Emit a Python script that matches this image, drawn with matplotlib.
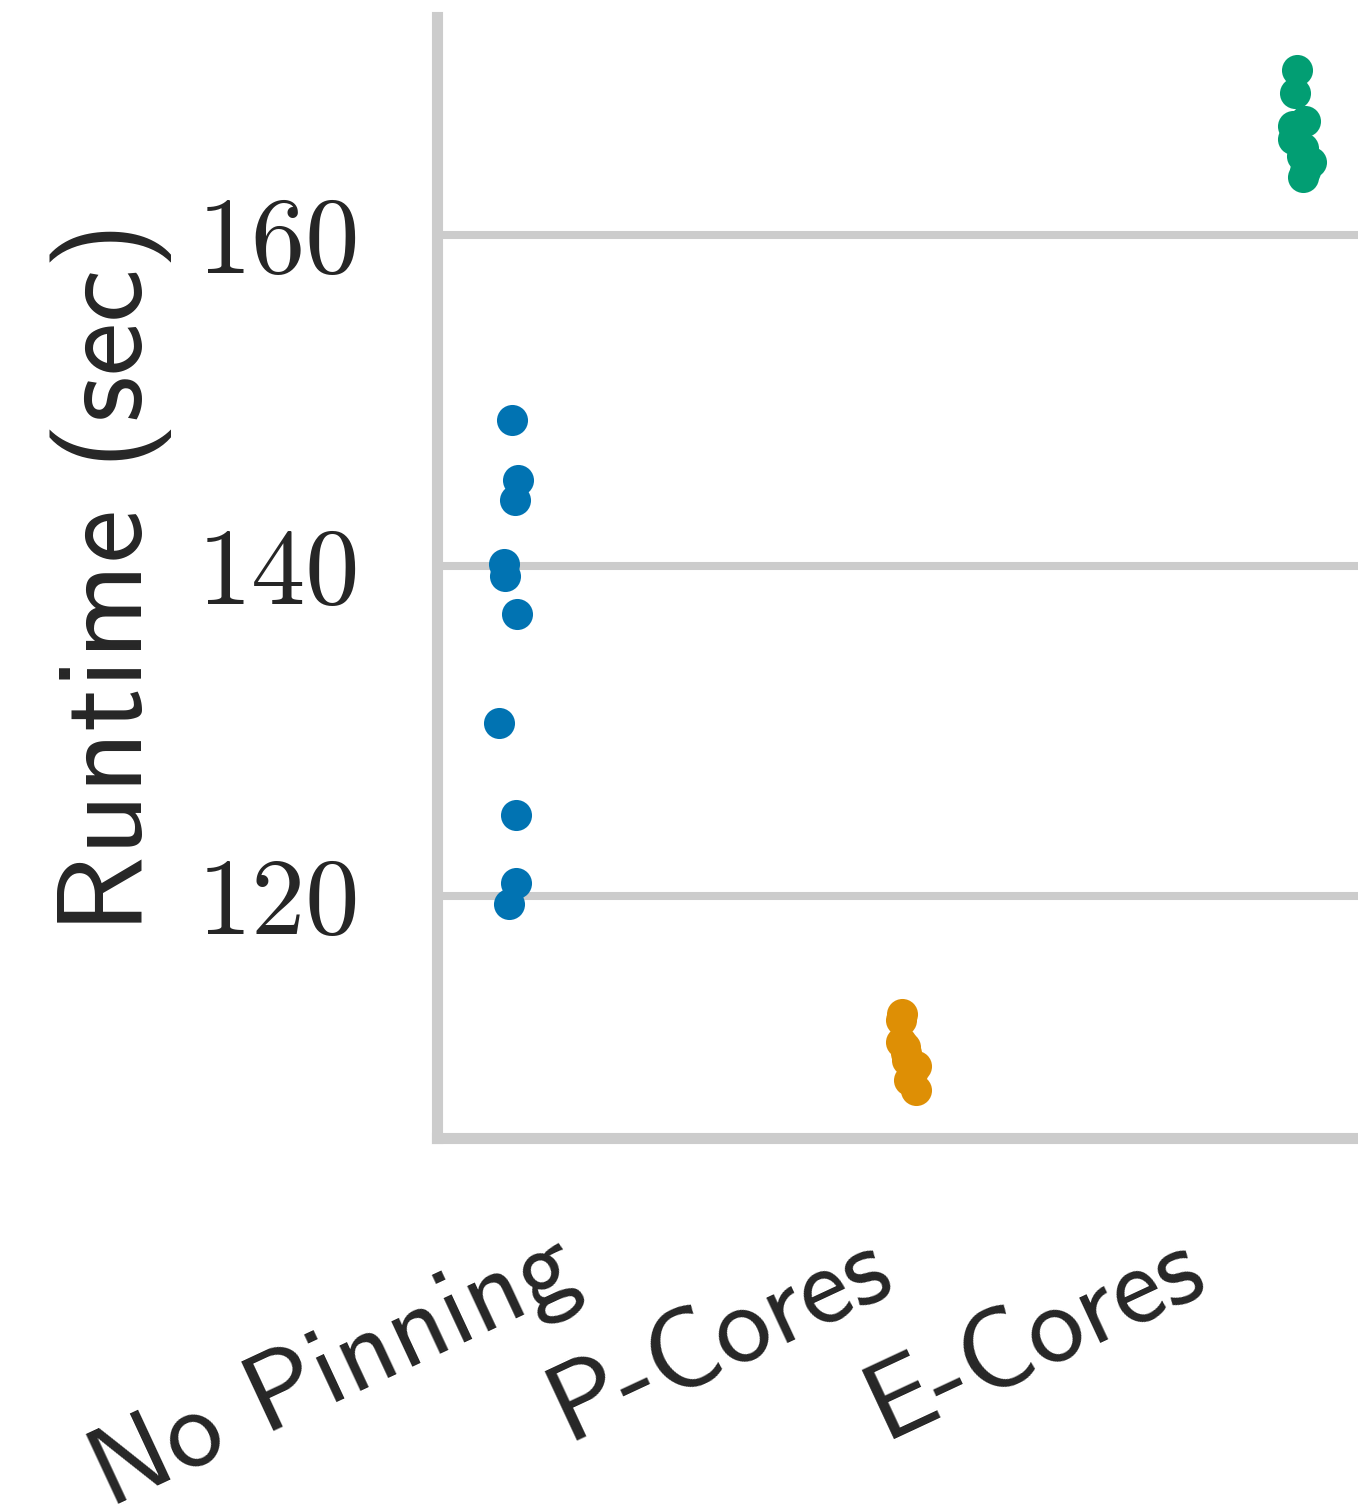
import numpy as np
import matplotlib
matplotlib.use("Agg")
import matplotlib.pyplot as plt

# Runtime measurements (seconds) per pinning strategy
categories = ["No Pinning", "P-Cores", "E-Cores"]
runtime_no_pinning = [148.8, 145.2, 144.0, 140.1, 139.4, 137.1, 130.5, 124.9, 120.8, 119.5]
runtime_p_cores = [112.9, 112.5, 111.2, 110.9, 110.5, 110.1, 109.7, 109.3, 108.9, 108.3]
runtime_e_cores = [170.0, 168.6, 166.9, 166.6, 165.8, 165.3, 164.8, 164.4, 163.9, 163.5]
y_ticks = [120, 140, 160]
y_label = "Runtime (sec)"

series = [runtime_no_pinning, runtime_p_cores, runtime_e_cores]
colors = ["#0173B2", "#DE8F05", "#029E73"]

W, H = 1358, 1507
fig = plt.figure(figsize=(W / 100, H / 100), dpi=100)
fig.patch.set_facecolor("white")

ax_left, ax_right, ax_top, ax_bottom = 436.5, 1375.5, 17.0, 1138.0
ax = fig.add_axes([ax_left / W, 1 - ax_bottom / H,
                   (ax_right - ax_left) / W, (ax_bottom - ax_top) / H])

# Stripplot with hue == category and dodge: each hue sits in its own slot
n_hue = len(categories)
slot = 0.8 / n_hue
rng = np.random.default_rng(7)
for i, (vals, c) in enumerate(zip(series, colors)):
    vals = np.asarray(vals)
    offset = (i - (n_hue - 1) / 2) * slot
    jit = rng.uniform(-0.1 / n_hue, 0.1 / n_hue, size=len(vals))
    ax.scatter(np.full(len(vals), i + offset) + jit, vals, s=500, color=c,
               linewidths=0, zorder=3)

ax.set_xlim(-0.5, 2.5)
ax.set_ylim(105.37, 173.2)

grid_c = "#cccccc"
ax.set_axisbelow(True)
ax.yaxis.grid(True, color=grid_c, linewidth=5.8)
ax.xaxis.grid(False)
for side in ("top", "right"):
    ax.spines[side].set_visible(False)
for side in ("left", "bottom"):
    ax.spines[side].set_color(grid_c)
    ax.spines[side].set_linewidth(8)

tick_fs = 80
label_fs = 87
ax.set_yticks(y_ticks)
ax.set_yticklabels([str(t) for t in y_ticks], family="cmr10", fontsize=78,
                   color="#262626")
ax.set_xticks(range(len(categories)))
ax.set_xticklabels(categories, family=["cmss10", "DejaVu Sans"], fontsize=tick_fs,
                   color="#262626", rotation=25, ha="right")
ax.tick_params(axis="y", length=0, pad=55)
ax.tick_params(axis="x", length=0, pad=57)

ax.set_ylabel(y_label, family=["cmss10", "DejaVu Sans"], fontsize=label_fs,
              color="#262626")
ax.yaxis.set_label_coords((172 - ax_left) / (ax_right - ax_left), 0.5)

fig.savefig("out.png", dpi=100, facecolor="white")
